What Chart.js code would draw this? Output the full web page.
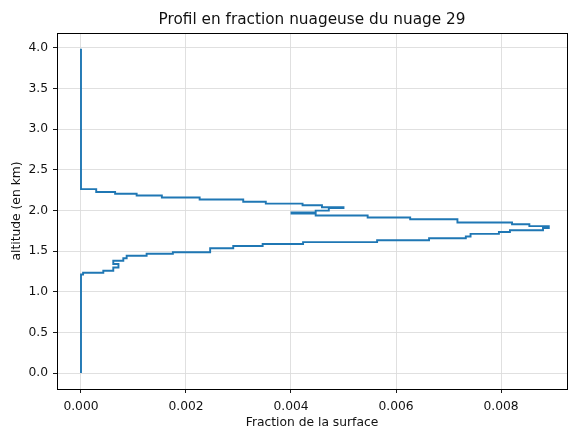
<!DOCTYPE html>
<html>
<head>
<meta charset="utf-8">
<title>Profil nuage 29</title>
<script src="https://cdn.jsdelivr.net/npm/chart.js@4/dist/chart.umd.min.js"></script>
<style>
  html, body { margin: 0; padding: 0; background: #fff; }
  canvas { display: block; }
</style>
</head>
<body>
<canvas id="profil" width="569" height="427"></canvas>
<script>
// Profil vertical : fraction de la surface couverte par le nuage a chaque niveau
let fraction = [
    0, 0.00004, 0.000425, 0.000615, 0.000714, 0.000615, 0.000806, 0.00087,
    0.00125, 0.00175, 0.00246, 0.0029, 0.00346, 0.00423, 0.00564, 0.00663,
    0.00733, 0.00742, 0.00796, 0.00817, 0.0088, 0.00891,
    0.00854, 0.00821, 0.00717, 0.00627, 0.00546, 0.00447, 0.00401, 0.00447,
    0.00472, 0.005, 0.00459, 0.00422, 0.00352, 0.00309, 0.00226, 0.00154,
    0.00106, 0.00065, 0.00029, 0, 0
];
let altitude = [
    0, 1.212, 1.234, 1.259, 1.298, 1.342, 1.382, 1.412,
    1.444, 1.467, 1.486, 1.535, 1.563, 1.587, 1.611, 1.633,
    1.659, 1.68, 1.712, 1.735, 1.757, 1.785,
    1.808, 1.831, 1.852, 1.893, 1.914, 1.938, 1.963, 1.976,
    1.998, 2.031, 2.04, 2.064, 2.085, 2.108, 2.136, 2.16,
    2.185, 2.206, 2.228, 2.263, 3.99
];

let xTicks = [0, 0.002, 0.004, 0.006, 0.008];
let yTicks = [0, 0.5, 1, 1.5, 2, 2.5, 3, 3.5, 4];

const TITLE = 'Profil en fraction nuageuse du nuage 29';
const FONT = 'DejaVu Sans';
const TEXT = '#111';

// Cadre complet autour de la zone de trace + titre centre sur cette zone
const frame = {
    id: 'frame',
    afterDatasetsDraw(chart) {
        let a = chart.chartArea;
        let ctx = chart.ctx;
        ctx.save();
        ctx.strokeStyle = '#000';
        ctx.lineWidth = 1;
        ctx.strokeRect(Math.round(a.left) + 0.5, Math.round(a.top) + 0.5,
                       Math.round(a.right - a.left), Math.round(a.bottom - a.top));
        ctx.fillStyle = TEXT;
        ctx.font = '15.3px "' + FONT + '"';
        ctx.textAlign = 'center';
        ctx.textBaseline = 'middle';
        ctx.fillText(TITLE, (a.left + a.right) / 2, 20);
        ctx.restore();
    }
};

function fixedTicks(values) {
    return function(scale) {
        scale.ticks = values.map(v => ({ value: v }));
    };
}

let points = fraction.map((f, i) => ({ x: f, y: altitude[i] }));

new Chart(document.getElementById('profil'), {
    type: 'line',
    data: {
        datasets: [{
            data: points,
            borderColor: '#1f77b4',
            borderWidth: 1.9,
            pointRadius: 0,
            stepped: 'after',
            fill: false,
            tension: 0
        }]
    },
    options: {
        responsive: false,
        animation: false,
        devicePixelRatio: 1,
        layout: { padding: { left: 0, right: 2, top: 33, bottom: 0 } },
        plugins: {
            legend: { display: false },
            tooltip: { enabled: false },
            title: { display: false }
        },
        scales: {
            x: {
                type: 'linear',
                min: -0.000457,
                max: 0.009257,
                afterBuildTicks: fixedTicks(xTicks),
                afterFit: function(scale) { scale.height = 38; },
                border: { display: false },
                grid: { color: '#dcdcdc', lineWidth: 0.9, tickLength: 4, tickColor: '#000' },
                ticks: {
                    color: TEXT,
                    font: { family: FONT, size: 12.3 },
                    padding: 6,
                    maxRotation: 0,
                    callback: v => v.toFixed(3)
                },
                title: {
                    display: true,
                    text: 'Fraction de la surface',
                    color: TEXT,
                    font: { family: FONT, size: 12.3, lineHeight: 0.7 },
                    padding: { top: 0, bottom: 0 }
                }
            },
            y: {
                type: 'linear',
                min: -0.1969,
                max: 4.1846,
                afterBuildTicks: fixedTicks(yTicks),
                afterFit: function(scale) { scale.width = 57; },
                border: { display: false },
                grid: { color: '#dcdcdc', lineWidth: 0.9, tickLength: 4, tickColor: '#000' },
                ticks: {
                    color: TEXT,
                    font: { family: FONT, size: 12.3 },
                    padding: 5,
                    callback: v => v.toFixed(1)
                },
                title: {
                    display: true,
                    text: 'altitude (en km)',
                    color: TEXT,
                    font: { family: FONT, size: 12.3, lineHeight: 1.2 },
                    padding: { top: 9, bottom: 0 }
                }
            }
        }
    },
    plugins: [frame]
});
</script>
</body>
</html>
